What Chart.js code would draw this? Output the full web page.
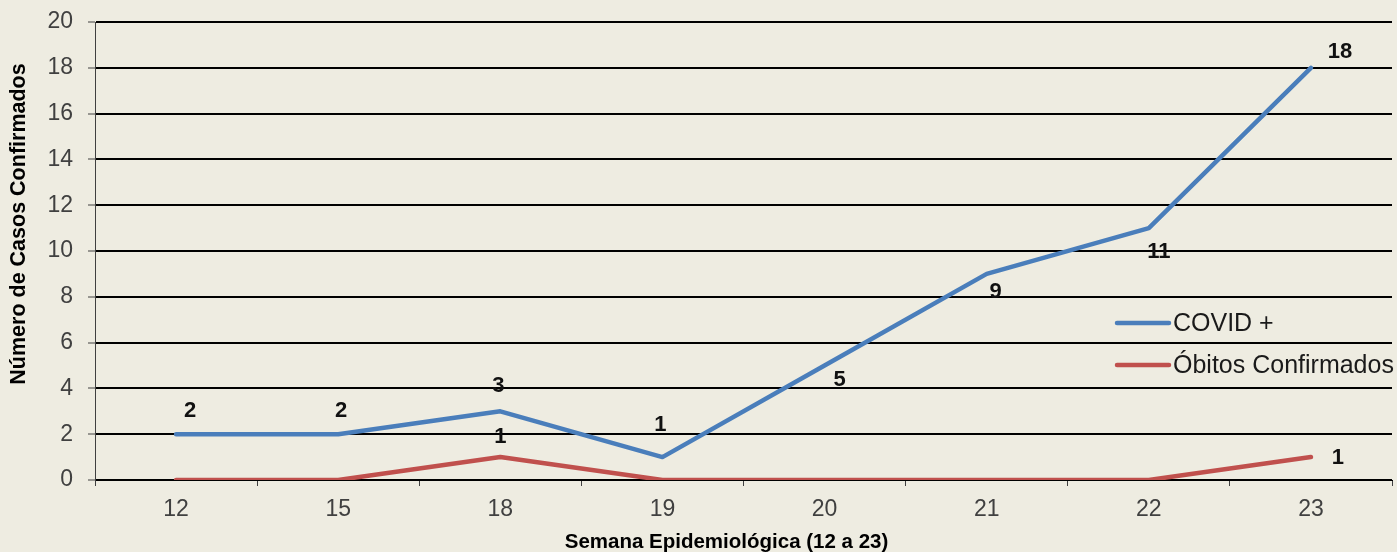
<!DOCTYPE html>
<html>
<head>
<meta charset="utf-8">
<script src="https://cdn.jsdelivr.net/npm/chart.js@4.4.1/dist/chart.umd.min.js"></script>
<style>
html,body{margin:0;padding:0;background:#EEECE1;}
canvas{display:block;}
</style>
</head>
<body>
<canvas id="c" width="1397" height="552"></canvas>
<script>
// ---- data ----
const categories = ['12', '15', '18', '19', '20', '21', '22', '23'];
const covidPositive = [2, 2, 3, 1, 5, 9, 11, 18];
const confirmedDeaths = [0, 0, 1, 0, 0, 0, 0, 1];
const seriesNames = ['COVID +', 'Óbitos Confirmados'];
const yTickMin = 0;
const yTickMax = 20;
const yTickStep = 2;
const xAxisTitle = 'Semana Epidemiológica (12 a 23)';
const yAxisTitle = 'Número de Casos Confirmados';

// ---- styling (label placement relative to each point) ----
const covidLabelOffsets = [[14,-23],[3,-23],[-2,-25],[-2,-32],[15,14],[9,18],[10,24],[29,-16]];
const deathLabelOffsets = [[0,-20],[0,-20],[0,-20],[0,-20],[0,-20],[0,-20],[0,-20],[27,1]];
const BLUE = '#4A7EBB';
const RED = '#C0504D';

const dataLabelPlugin = {
  id: 'dataLabels',
  afterDatasetsDraw(chart) {
    const ctx = chart.ctx;
    ctx.save();
    ctx.font = 'bold 22px "Liberation Sans", Arial, sans-serif';
    ctx.fillStyle = '#111';
    ctx.textAlign = 'center';
    ctx.textBaseline = 'middle';
    const offsets = [covidLabelOffsets, deathLabelOffsets];
    chart.data.datasets.forEach((ds, di) => {
      const meta = chart.getDatasetMeta(di);
      meta.data.forEach((pt, i) => {
        const v = ds.data[i];
        if (v === 0) return;
        const o = offsets[di][i];
        ctx.fillText(String(v), pt.x + o[0], pt.y + o[1]);
      });
    });
    ctx.restore();
  }
};

const legendTitlesPlugin = {
  id: 'legendTitles',
  afterDraw(chart) {
    const ctx = chart.ctx;
    const a = chart.chartArea;
    ctx.save();
    // legend
    const colors = [BLUE, RED];
    const x0 = a.right - 275, x1 = a.right - 223;
    const ys = [a.bottom - 157, a.bottom - 115];
    chart.data.datasets.forEach((ds, i) => {
      ctx.strokeStyle = colors[i];
      ctx.lineWidth = 4.5;
      ctx.lineCap = 'round';
      ctx.beginPath();
      ctx.moveTo(x0, ys[i]);
      ctx.lineTo(x1, ys[i]);
      ctx.stroke();
      ctx.font = '25px "Liberation Sans", Arial, sans-serif';
      ctx.fillStyle = '#1a1a1a';
      ctx.textAlign = 'left';
      ctx.textBaseline = 'middle';
      ctx.fillText(ds.label, x1 + 4, ys[i] + 1);
    });
    // axis titles
    ctx.fillStyle = '#000';
    ctx.textAlign = 'center';
    ctx.textBaseline = 'middle';
    ctx.font = 'bold 20.5px "Liberation Sans", Arial, sans-serif';
    ctx.fillText(xAxisTitle, (a.left + a.right) / 2 - 17, 542);
    ctx.font = 'bold 21.5px "Liberation Sans", Arial, sans-serif';
    ctx.translate(19, 224);
    ctx.rotate(-Math.PI / 2);
    ctx.fillText(yAxisTitle, 0, 0);
    ctx.restore();
  }
};

new Chart(document.getElementById('c'), {
  type: 'line',
  data: {
    labels: categories,
    datasets: [
      {
        label: seriesNames[0],
        data: covidPositive,
        borderColor: BLUE,
        backgroundColor: BLUE,
        borderWidth: 4.5,
        pointRadius: 0,
        tension: 0,
        borderCapStyle: 'round',
        borderJoinStyle: 'round'
      },
      {
        label: seriesNames[1],
        data: confirmedDeaths,
        borderColor: RED,
        backgroundColor: RED,
        borderWidth: 4.5,
        pointRadius: 0,
        tension: 0,
        borderCapStyle: 'round',
        borderJoinStyle: 'round'
      }
    ]
  },
  options: {
    responsive: false,
    animation: false,
    devicePixelRatio: 1,
    layout: { padding: { top: 22, right: 5, left: 0, bottom: 0 } },
    plugins: {
      legend: { display: false },
      tooltip: { enabled: false },
      title: { display: false }
    },
    scales: {
      x: {
        type: 'category',
        offset: true,
        afterFit(scale) { scale.height = 72; },
        grid: {
          display: true,
          offset: true,
          drawOnChartArea: false,
          drawTicks: true,
          tickLength: 6,
          color: '#404040',
          lineWidth: 1
        },
        border: { display: true, color: '#000', width: 1 },
        ticks: {
          color: '#404040',
          font: { family: '"Liberation Sans", Arial, sans-serif', size: 23 },
          padding: 10,
          maxRotation: 0
        },
        title: { display: false }
      },
      y: {
        min: yTickMin,
        max: yTickMax,
        afterFit(scale) { scale.width = 95; scale.paddingTop = 0; scale.paddingBottom = 0; },
        grid: {
          color: '#000',
          lineWidth: 2,
          drawTicks: true,
          tickLength: 7,
          tickColor: '#404040',
          tickWidth: 1
        },
        border: { display: true, color: '#404040', width: 1 },
        ticks: {
          stepSize: yTickStep,
          color: '#404040',
          font: { family: '"Liberation Sans", Arial, sans-serif', size: 23 },
          padding: 15
        },
        title: { display: false }
      }
    }
  },
  plugins: [dataLabelPlugin, legendTitlesPlugin]
});
</script>
</body>
</html>
